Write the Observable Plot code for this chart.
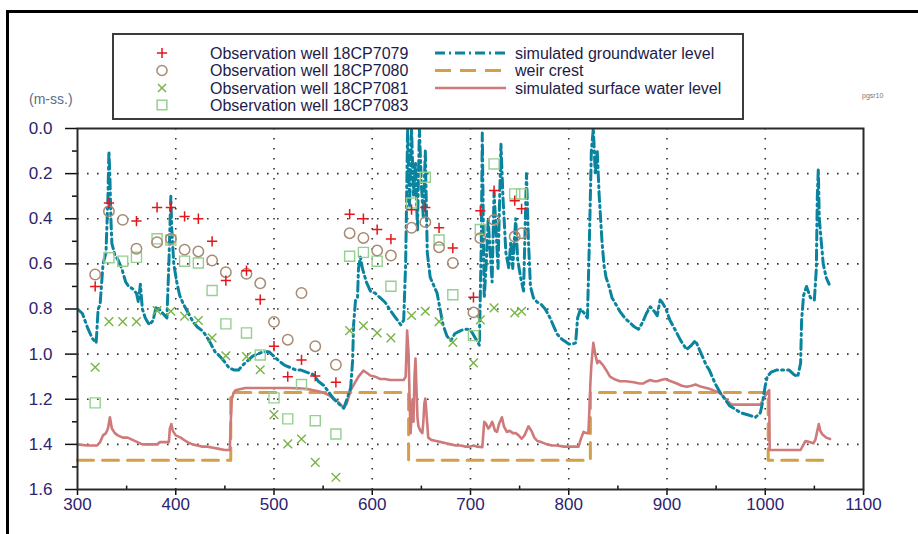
<!DOCTYPE html>
<html><head><meta charset="utf-8">
<script src="https://cdn.jsdelivr.net/npm/d3@7"></script>
<script src="https://cdn.jsdelivr.net/npm/@observablehq/plot@0.6"></script>
<style>
body{margin:0;background:#fff;font-family:"Liberation Sans",Arial,sans-serif;}
#wrap{position:relative;width:918px;height:534px;overflow:hidden;background:#fff}
#frame{position:absolute;left:6px;top:10px;width:1000px;height:600px;border-left:3px solid #000;border-top:3px solid #000;box-sizing:border-box}
#chart{position:absolute;left:0;top:0}
#legend{position:absolute;left:112px;top:33px;width:628px;height:83px;border:2px solid #3c3c3c;background:#fff}
#unit{position:absolute;left:29px;top:91px;font-size:14px;color:#5a6c8c}
#tag{position:absolute;left:862px;top:92px;font-size:7px;color:#777}
</style></head>
<body><div id="wrap"><div id="frame"></div><div id="chart"></div><div id="legend"></div><div id="unit">(m-ss.)</div><div id="tag">pgsr10</div></div>
<script>
// observation dates (shared by the four wells)
const obsDates = [318,332,346,360,381,395,409,423,437,451,472,486,500,514,528,542,563,577,591,605,619,640,654,668,682,703,710,724,745,752];
const well7079 = [0.70,0.33,null,0.41,0.35,0.35,0.39,0.40,0.50,0.674,0.63,0.758,0.965,1.10,1.026,1.097,1.125,0.38,0.40,0.448,0.49,0.36,0.35,0.44,0.53,0.748,0.364,0.275,0.32,0.356];
const well7080 = [0.647,0.367,0.405,0.533,0.504,0.489,0.537,0.545,0.585,0.637,0.644,0.686,0.857,0.936,0.729,0.965,1.047,0.464,0.485,0.541,0.563,0.44,0.415,0.526,0.596,0.815,0.486,0.405,0.479,0.464];
const well7081 = [1.058,0.856,0.856,0.856,0.807,0.81,0.832,0.851,0.928,1.007,1.011,1.069,1.268,1.398,1.376,1.48,1.546,0.896,0.874,0.906,0.928,0.829,0.81,0.856,0.948,1.039,0.848,0.795,0.817,0.81];
const well7083 = [1.216,0.573,0.588,0.571,0.489,0.494,0.588,0.596,0.718,0.866,0.906,1.004,1.194,1.287,1.135,1.295,1.354,0.566,0.549,0.588,0.699,0.33,0.216,0.494,0.737,0.918,0.448,0.157,0.29,0.29];

// simulated groundwater level
const gwX = [300,305,310,315,319,321,323,326,329,331,332,333,334,335,338,341,345,349,352,356,360,362,364,366,369,373,377,380,383,387,391,393,395,396,398,401,404,408,413,418,422,428,434,440,445,449,454,459,464,468,473,478,483,489,495,500,505,511,517,522,527,533,540,545,551,556,561,566,571,575,578,580,581,583,585,586,588,590,594,598,603,608,613,619,624,629,632,634,636,638,640,642,644,646,648,650,652,654,656,659,663,666,669,672,676,680,684,688,693,697,701,705,709,711,712,713,714,716,718,720,722,724,726,728,731,733,736,739,741,743,746,748,751,754,757,759,761,764,768,772,776,781,785,788,792,795,800,804,807,809,812,816,819,821,823,825,827,829,831,834,836,838,841,844,848,852,857,862,867,871,875,879,883,887,890,893,895,899,903,908,914,920,925,929,933,936,940,943,946,949,954,959,964,968,975,983,990,995,997,1000,1002,1006,1012,1018,1024,1029,1033,1036,1037,1039,1042,1046,1050,1052,1053,1054,1055,1057,1059,1062,1065];
const gwY = [0.80,0.82,0.88,0.93,0.95,0.80,0.78,0.60,0.55,0.30,0.10,0.22,0.40,0.51,0.56,0.58,0.62,0.68,0.70,0.71,0.73,0.77,0.69,0.80,0.84,0.87,0.85,0.79,0.80,0.82,0.84,0.60,0.30,0.45,0.60,0.68,0.74,0.78,0.82,0.86,0.88,0.90,0.94,0.99,1.01,1.03,1.06,1.07,1.07,1.05,1.03,1.01,1.00,0.99,0.99,1.01,1.03,1.05,1.06,1.07,1.07,1.08,1.09,1.12,1.14,1.17,1.20,1.22,1.24,1.19,1.15,1.03,0.87,0.76,0.75,0.62,0.57,0.62,0.68,0.72,0.73,0.75,0.77,0.81,0.84,0.87,0.85,0.60,0.0,0.35,0.0,0.30,0.15,0.45,0.0,0.25,0.40,0.10,0.55,0.66,0.70,0.73,0.80,0.87,0.92,0.94,0.91,0.90,0.89,0.89,0.90,0.93,0.96,0.50,0.02,0.40,0.75,0.60,0.40,0.55,0.68,0.28,0.45,0.62,0.07,0.30,0.55,0.62,0.50,0.62,0.40,0.58,0.66,0.72,0.20,0.50,0.70,0.75,0.77,0.78,0.80,0.84,0.88,0.91,0.93,0.94,0.955,0.955,0.95,0.84,0.80,0.82,0.84,0.50,0.10,0.0,0.20,0.10,0.30,0.51,0.61,0.66,0.70,0.75,0.78,0.81,0.84,0.86,0.88,0.89,0.86,0.82,0.79,0.81,0.83,0.76,0.77,0.80,0.85,0.89,0.94,0.98,0.96,0.94,0.98,1.01,1.05,1.07,1.10,1.13,1.17,1.20,1.23,1.24,1.26,1.27,1.28,1.26,1.22,1.14,1.10,1.08,1.07,1.07,1.07,1.09,1.10,1.04,0.85,0.74,0.70,0.75,0.76,0.62,0.30,0.18,0.40,0.50,0.60,0.66,0.69];

// weir crest (step after)
const weirX = [300,456,637,822,1003,1066];
const weirY = [1.47,1.17,1.47,1.17,1.47,1.47];

// simulated surface water level
const swX = [300,310,320,323,326,329,331,333,335,338,341,346,351,356,361,366,371,376,381,384,389,393,394,395.5,397,400,405,410,412,417,422,427,432,438,444,450,455,456,457,459,461,466,471,476,485,495,505,515,525,534,540,545,550,555,560,565,568,571,574,576,578,582,586,591,595,598,603,608,613,618,623,628,632,634,635.5,637,638,639,641,642,643,644,645,646,647,649,651,652,653,654,655,657,660,665,670,675,680,685,690,695,700,703,707,712,714,716,718,720,722,723,725,727,729,732,734,737,740,743,746,749,752,755,759,762,765,768,772,778,783,788,795,800,805,810,812,815,818,820,821,822,823,825,827,829,831,835,838,842,846,852,858,866,872,876,880,883,887,890,894,898,904,910,915,920,925,929,935,940,944,950,954,958,962,966,970,980,990,995,998,1000,1003,1004,1004.5,1010,1020,1030,1036,1039,1041,1045,1049,1051,1053,1054.5,1056,1058,1062,1066];
const swY = [1.40,1.405,1.405,1.39,1.36,1.35,1.33,1.28,1.33,1.35,1.36,1.37,1.37,1.38,1.39,1.40,1.40,1.40,1.40,1.39,1.39,1.39,1.33,1.31,1.34,1.36,1.37,1.385,1.39,1.40,1.405,1.41,1.41,1.415,1.42,1.425,1.425,1.30,1.20,1.17,1.16,1.155,1.15,1.15,1.15,1.15,1.15,1.15,1.152,1.155,1.16,1.165,1.17,1.18,1.195,1.21,1.225,1.236,1.22,1.19,1.16,1.13,1.10,1.073,1.085,1.095,1.10,1.11,1.11,1.115,1.115,1.115,1.115,1.10,0.896,1.00,1.20,1.35,1.20,1.30,1.10,1.02,1.15,1.28,1.32,1.34,1.35,1.30,1.22,1.197,1.25,1.37,1.38,1.385,1.39,1.395,1.40,1.405,1.405,1.41,1.41,1.405,1.41,1.413,1.30,1.31,1.33,1.32,1.30,1.31,1.34,1.345,1.31,1.28,1.32,1.345,1.34,1.35,1.35,1.36,1.375,1.36,1.32,1.34,1.37,1.385,1.39,1.40,1.405,1.405,1.41,1.41,1.41,1.41,1.38,1.345,1.35,1.35,1.25,1.13,1.05,0.95,1.00,1.04,1.03,1.05,1.07,1.10,1.11,1.12,1.12,1.125,1.13,1.13,1.12,1.115,1.12,1.12,1.115,1.11,1.12,1.13,1.14,1.145,1.14,1.135,1.145,1.15,1.155,1.165,1.174,1.19,1.21,1.224,1.224,1.224,1.224,1.224,1.20,1.184,1.165,1.16,1.425,1.425,1.425,1.425,1.425,1.40,1.385,1.39,1.395,1.38,1.34,1.31,1.34,1.355,1.37,1.376];

// axes
const yMajor = [0,0.2,0.4,0.6,0.8,1.0,1.2,1.4,1.6];
const yMinor = [0.1,0.3,0.5,0.7,0.9,1.1,1.3,1.5];
const yGrid = [0.2,0.4,0.6,0.8,1.0,1.2,1.4];
const xMajor = [300,400,500,600,700,800,900,1000,1100];
const xMinor = [350,450,550,650,750,850,950,1050];
const xGrid = [400,500,600,700,800,900,1000];

const seriesNames = ["Observation well 18CP7079","Observation well 18CP7080","Observation well 18CP7081","Observation well 18CP7083"];
const lineNames = ["simulated groundwater level","weir crest","simulated surface water level"];

const C = {gw:"#0a849e", weir:"#d49f4a", sw:"#cf7a7a", p79:"#e3161c", p80:"#a88a72", p81:"#78b446", p83:"#96cf92"};

const gw = gwX.map((x,i)=>({x, y: gwY[i]}));
const sw = swX.map((x,i)=>({x, y: swY[i]}));
const weir = weirX.map((x,i)=>({x, y: weirY[i]}));
const obs = (vals) => obsDates.map((x,i)=>({x, y: vals[i]})).filter(d=>d.y!=null);

const chart = Plot.plot({
  width: 918, height: 534,
  marginLeft: 77, marginRight: 55, marginTop: 128, marginBottom: 45,
  style: {fontFamily: "'Liberation Sans', Arial, sans-serif", fontSize: "17px", background: "transparent", overflow: "visible"},
  x: {domain: [300,1100], label: null},
  y: {domain: [0,1.6], reverse: true, label: null},
  marks: [
    Plot.gridY(yGrid, {stroke:"#333", strokeOpacity:1, strokeWidth:1.6, strokeDasharray:"1.6,8.4"}),
    Plot.gridX(xGrid, {stroke:"#333", strokeOpacity:1, strokeWidth:1.6, strokeDasharray:"1.6,8.4"}),
    Plot.line(weir, {x:"x", y:"y", curve:"step-after", stroke:C.weir, strokeWidth:3, strokeDasharray:"16,9"}),
    Plot.line(sw, {x:"x", y:"y", stroke:C.sw, strokeWidth:2.6}),
    Plot.line(gw, {x:"x", y:"y", stroke:C.gw, strokeWidth:3, strokeDasharray:"10,4,2,4", clip:true}),
    Plot.dot(obs(well7083), {x:"x", y:"y", symbol:"square2", r:6.4, stroke:C.p83, strokeWidth:1.4, fill:"none"}),
    Plot.dot(obs(well7081), {x:"x", y:"y", symbol:"times", r:4, stroke:C.p81, strokeWidth:1.4, fill:"none"}),
    Plot.dot(obs(well7080), {x:"x", y:"y", symbol:"circle", r:5.2, stroke:C.p80, strokeWidth:1.5, fill:"none"}),
    Plot.dot(obs(well7079), {x:"x", y:"y", symbol:"plus", r:3.4, stroke:C.p79, strokeWidth:1.5, fill:"none"}),
    Plot.axisY(yMajor, {tickSize:12, tickPadding:13, tickFormat:d=>d.toFixed(1), fill:"#2d2370", stroke:"#111", strokeWidth:1.5, label:null}),
    Plot.axisY(yMinor, {tickSize:5, text:null, stroke:"#111", strokeWidth:1.5, label:null}),
    Plot.axisX(xMajor, {tickSize:6, tickPadding:2, tickFormat:d=>String(d), fill:"#2d2370", stroke:"#111", strokeWidth:1.5, label:null}),
    Plot.ruleX(xMinor, {y1:1.6, y2:1.585, stroke:"#111", strokeWidth:1.5}),
    Plot.frame({stroke:"#2a2a2a", strokeWidth:2})
  ]
});
document.getElementById("chart").appendChild(chart);

// legend
const lg = d3.select("#legend").append("svg").attr("width",628).attr("height",83)
  .style("font-family","'Liberation Sans', Arial, sans-serif").style("font-size","16px");
const rowsY = [18,35.5,53,70];
const syms = [
  {s:d3.symbolPlus, size:36, c:C.p79},
  {s:d3.symbolCircle, size:80, c:C.p80},
  {s:d3.symbolTimes, size:45, c:C.p81},
  {s:d3.symbolSquare2, size:120, c:C.p83}
];
seriesNames.forEach((n,i)=>{
  lg.append("path").attr("d", d3.symbol(syms[i].s, syms[i].size)()).attr("transform",`translate(48,${rowsY[i]})`)
    .attr("fill","none").attr("stroke",syms[i].c).attr("stroke-width",1.5);
  lg.append("text").attr("x",96).attr("y",rowsY[i]).attr("dy","0.36em").attr("fill","#1c1c4a").text(n);
});
const lineStyles = [
  {c:C.gw, w:3, dash:"10,4,2,4"},
  {c:C.weir, w:3, dash:"16,9"},
  {c:C.sw, w:2.6, dash:null}
];
lineNames.forEach((n,i)=>{
  const l = lg.append("line").attr("x1",321).attr("x2",392).attr("y1",rowsY[i]).attr("y2",rowsY[i])
    .attr("stroke",lineStyles[i].c).attr("stroke-width",lineStyles[i].w);
  if (lineStyles[i].dash) l.attr("stroke-dasharray",lineStyles[i].dash);
  lg.append("text").attr("x",401).attr("y",rowsY[i]).attr("dy","0.36em").attr("fill","#1c1c4a").text(n);
});
</script>
</body></html>
